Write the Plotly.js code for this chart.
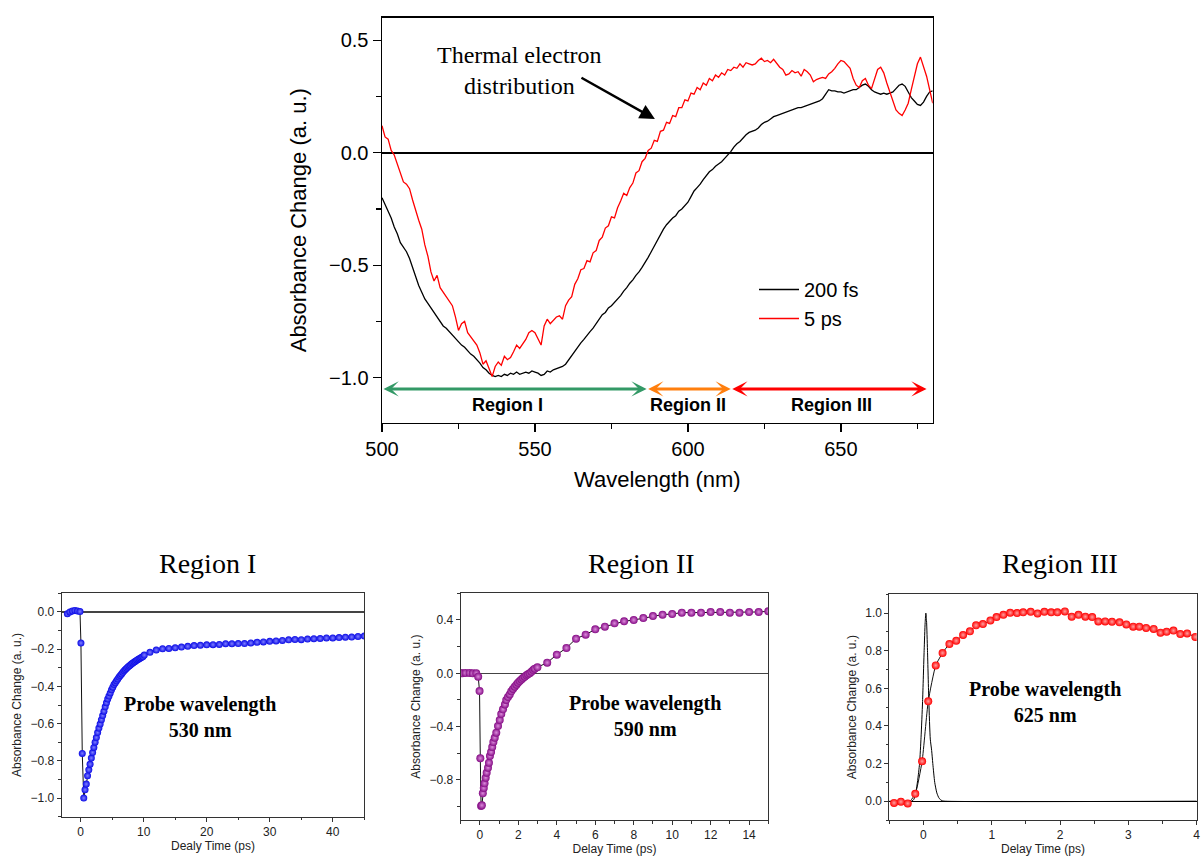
<!DOCTYPE html>
<html>
<head>
<meta charset="utf-8">
<script src="https://cdn.plot.ly/plotly-3.0.1.min.js"></script>
<style>html,body{margin:0;padding:0;background:#fff;}#chart{width:1201px;height:860px;}</style>
</head>
<body>
<div id="chart"></div>
<script>
// ---------- Main spectrum data ----------
const wavelength = [500,501,502,503,504,505,506,507,508,509,510,511,512,513,514,515,516,517,518,519,520,521,522,523,524,525,526,527,528,529,530,531,532,533,534,535,536,537,538,539,540,541,542,543,544,545,546,547,548,549,550,551,552,553,554,555,556,557,558,559,560,561,562,563,564,565,566,567,568,569,570,571,572,573,574,575,576,577,578,579,580,581,582,583,584,585,586,587,588,589,590,591,592,593,594,595,596,597,598,599,600,601,602,603,604,605,606,607,608,609,610,611,612,613,614,615,616,617,618,619,620,621,622,623,624,625,626,627,628,629,630,631,632,633,634,635,636,637,638,639,640,641,642,643,644,645,646,647,648,649,650,651,652,653,654,655,656,657,658,659,660,661,662,663,664,665,666,667,668,669,670,671,672,673,674,675,676,677,678,679,680];

const spec200fs = [-0.20,-0.23,-0.26,-0.29,-0.33,-0.36,-0.40,-0.42,-0.44,-0.47,-0.51,-0.55,-0.59,-0.62,-0.65,-0.67,-0.69,-0.71,-0.73,-0.75,-0.77,-0.78,-0.795,-0.81,-0.825,-0.84,-0.855,-0.865,-0.88,-0.895,-0.905,-0.92,-0.935,-0.955,-0.965,-0.98,-0.99,-0.995,-0.99,-0.995,-0.985,-0.99,-0.98,-0.985,-0.975,-0.985,-0.98,-0.975,-0.98,-0.97,-0.975,-0.98,-0.99,-0.985,-0.97,-0.975,-0.965,-0.96,-0.955,-0.95,-0.94,-0.92,-0.90,-0.88,-0.86,-0.845,-0.83,-0.81,-0.795,-0.78,-0.76,-0.745,-0.72,-0.71,-0.69,-0.68,-0.665,-0.65,-0.635,-0.615,-0.60,-0.58,-0.565,-0.545,-0.53,-0.51,-0.49,-0.465,-0.44,-0.415,-0.385,-0.36,-0.34,-0.32,-0.305,-0.29,-0.28,-0.26,-0.25,-0.235,-0.22,-0.195,-0.17,-0.155,-0.14,-0.12,-0.10,-0.085,-0.075,-0.06,-0.05,-0.04,-0.025,-0.01,0.005,0.025,0.04,0.05,0.065,0.08,0.09,0.095,0.10,0.11,0.125,0.135,0.14,0.15,0.16,0.165,0.17,0.175,0.18,0.185,0.19,0.195,0.20,0.20,0.205,0.21,0.215,0.22,0.225,0.23,0.24,0.26,0.28,0.275,0.275,0.27,0.27,0.265,0.27,0.275,0.28,0.28,0.29,0.30,0.305,0.295,0.28,0.27,0.265,0.26,0.265,0.26,0.265,0.27,0.285,0.30,0.305,0.295,0.27,0.245,0.23,0.215,0.21,0.225,0.25,0.27,0.275];

const spec5ps = [0.12,0.07,0.06,0.01,-0.01,-0.05,-0.09,-0.13,-0.14,-0.16,-0.21,-0.26,-0.30,-0.34,-0.41,-0.46,-0.53,-0.57,-0.545,-0.60,-0.62,-0.64,-0.655,-0.68,-0.73,-0.79,-0.76,-0.75,-0.80,-0.82,-0.835,-0.855,-0.89,-0.94,-0.925,-0.96,-0.995,-0.95,-0.93,-0.945,-0.905,-0.92,-0.91,-0.885,-0.855,-0.87,-0.85,-0.83,-0.80,-0.79,-0.80,-0.83,-0.855,-0.77,-0.74,-0.76,-0.745,-0.73,-0.725,-0.74,-0.68,-0.655,-0.64,-0.585,-0.56,-0.52,-0.515,-0.48,-0.485,-0.445,-0.435,-0.39,-0.375,-0.335,-0.325,-0.285,-0.29,-0.245,-0.215,-0.18,-0.19,-0.155,-0.135,-0.09,-0.08,-0.04,-0.025,0.01,0.02,0.055,0.05,0.095,0.10,0.135,0.13,0.165,0.16,0.20,0.20,0.235,0.23,0.265,0.26,0.29,0.28,0.31,0.30,0.33,0.32,0.345,0.335,0.355,0.345,0.37,0.365,0.38,0.375,0.395,0.38,0.40,0.395,0.39,0.395,0.41,0.42,0.405,0.41,0.40,0.415,0.395,0.38,0.37,0.345,0.35,0.365,0.355,0.36,0.34,0.37,0.36,0.345,0.315,0.325,0.33,0.335,0.33,0.35,0.36,0.375,0.395,0.41,0.405,0.39,0.375,0.33,0.30,0.29,0.32,0.33,0.30,0.285,0.33,0.37,0.38,0.355,0.31,0.27,0.23,0.19,0.175,0.165,0.19,0.22,0.28,0.34,0.395,0.425,0.38,0.34,0.28,0.22];

const seriesNames = ["200 fs", "5 ps"];

// ---------- Region I (530 nm) ----------
const r1Time = [-2.1,-1.7,-1.3,-0.9,-0.5,-0.1,0.05,0.26,0.5,0.7,0.9,1.1,1.3,1.5,1.7,1.9,2.1,2.3,2.5,2.7,2.9,3.1,3.3,3.5,3.7,3.9,4.1,4.3,4.5,4.7,4.9,5.1,5.3,5.5,5.7,5.9,6.1,6.3,6.5,6.7,6.9,7.1,7.3,7.5,7.7,7.9,8.1,8.3,8.5,8.7,8.9,9.1,9.3,9.5,9.7,9.9,10.1,11,12,13,14,15,16,17,18,19,20,21,22,23,24,25,26,27,28,29,30,31,32,33,34,35,36,37,38,39,40,41,42,43,44,45];
const r1Abs = [-0.01,0.0,0.005,0.008,0.005,0.002,-0.167,-0.76,-1.0,-0.955,-0.925,-0.88,-0.848,-0.818,-0.785,-0.755,-0.728,-0.700,-0.675,-0.648,-0.624,-0.602,-0.579,-0.557,-0.533,-0.510,-0.488,-0.468,-0.452,-0.435,-0.418,-0.404,-0.390,-0.380,-0.370,-0.360,-0.350,-0.341,-0.333,-0.324,-0.316,-0.309,-0.302,-0.296,-0.290,-0.285,-0.279,-0.274,-0.269,-0.265,-0.259,-0.255,-0.251,-0.247,-0.243,-0.240,-0.232,-0.217,-0.205,-0.198,-0.196,-0.193,-0.189,-0.185,-0.181,-0.179,-0.177,-0.176,-0.175,-0.171,-0.171,-0.170,-0.170,-0.167,-0.163,-0.161,-0.158,-0.156,-0.153,-0.150,-0.148,-0.149,-0.146,-0.144,-0.143,-0.140,-0.140,-0.138,-0.136,-0.135,-0.132,-0.130];

// ---------- Region II (590 nm) ----------
const r2Time = [-1.0,-0.92,-0.75,-0.54,-0.37,-0.19,-0.09,-0.02,0.02,0.06,0.1,0.15,0.2,0.24,0.3,0.35,0.42,0.47,0.52,0.58,0.64,0.7,0.77,0.85,0.94,1.03,1.11,1.2,1.3,1.37,1.46,1.55,1.63,1.72,1.81,1.9,1.98,2.07,2.16,2.24,2.33,2.42,2.5,2.59,2.68,2.77,2.85,2.99,3.5,4.0,4.5,5.0,5.5,6.0,6.5,7.0,7.5,8.0,8.5,9.0,9.5,10.0,10.5,11.0,11.5,12.0,12.5,13.0,13.5,14.0,14.5,15.0];
const r2Abs = [0.0,0.0,0.003,0.003,0.0,0.0,-0.025,-0.133,-0.637,-0.995,-0.99,-0.90,-0.86,-0.825,-0.783,-0.745,-0.708,-0.67,-0.62,-0.59,-0.553,-0.515,-0.483,-0.445,-0.395,-0.35,-0.305,-0.27,-0.233,-0.2,-0.178,-0.158,-0.135,-0.117,-0.1,-0.085,-0.07,-0.058,-0.046,-0.036,-0.025,-0.015,-0.007,0.0,0.012,0.024,0.035,0.045,0.08,0.14,0.19,0.26,0.29,0.33,0.35,0.375,0.39,0.40,0.415,0.43,0.44,0.445,0.455,0.455,0.455,0.46,0.46,0.455,0.455,0.46,0.46,0.465];

// ---------- Region III (625 nm) ----------
const r3Time = [-0.43,-0.33,-0.23,-0.12,-0.02,0.07,0.18,0.28,0.38,0.48,0.58,0.68,0.77,0.87,0.98,1.07,1.17,1.27,1.37,1.46,1.57,1.67,1.77,1.87,1.96,2.07,2.17,2.27,2.37,2.47,2.56,2.66,2.76,2.87,2.97,3.07,3.16,3.26,3.37,3.47,3.56,3.66,3.76,3.86,3.98];
const r3Abs = [-0.009,-0.003,-0.012,0.039,0.212,0.531,0.722,0.788,0.836,0.853,0.884,0.903,0.935,0.942,0.961,0.979,0.991,1.002,1.0,1.004,1.007,0.998,1.007,1.004,1.004,1.009,0.981,0.991,0.981,0.979,0.956,0.956,0.954,0.951,0.94,0.928,0.928,0.921,0.916,0.896,0.901,0.907,0.889,0.892,0.873];
const pulseTime = [-0.5,-0.17,-0.14,-0.11,-0.085,-0.057,-0.035,-0.013,0.01,0.025,0.035,0.045,0.059,0.079,0.1,0.12,0.137,0.165,0.196,0.23,0.27,0.32,4.0];
const pulseAbs = [0,0,0.01,0.05,0.11,0.2,0.34,0.53,0.8,0.95,1.0,0.96,0.8,0.53,0.33,0.27,0.2,0.1,0.044,0.015,0.003,0,0];

const regionTitles = ["Region I", "Region II", "Region III"];
const probeLabels = ["Probe wavelength<br>530 nm", "Probe wavelength<br>590 nm", "Probe wavelength<br>625 nm"];
const regionBands = [[500, 586.5], [586.5, 614], [614, 678]];
const bandNames = ["Region I", "Region II", "Region III"];

// ---------- Build ----------
const SANS = "Liberation Sans, Arial, sans-serif";
const SERIF = "Liberation Serif, Times New Roman, serif";
const W = 1201, H = 860;
const px = v => v / W;
const py = v => 1 - v / H;

const traces = [
  {x: wavelength, y: spec200fs, name: seriesNames[0], mode: "lines", line: {color: "#000000", width: 1.3}, xaxis: "x", yaxis: "y"},
  {x: wavelength, y: spec5ps, name: seriesNames[1], mode: "lines", line: {color: "#ff0000", width: 1.3}, xaxis: "x", yaxis: "y"},
  {x: r1Time, y: r1Abs, mode: "lines+markers", showlegend: false, xaxis: "x2", yaxis: "y2",
   line: {color: "#111", width: 1},
   marker: {size: 7, color: "#0a0ae6", gradient: {type: "radial", color: "#7f7fff"}, line: {width: 0}}},
  {x: r2Time, y: r2Abs, mode: "lines+markers", showlegend: false, xaxis: "x3", yaxis: "y3",
   line: {color: "#111", width: 1},
   marker: {size: 8, color: "#850c85", gradient: {type: "radial", color: "#dc8cdc"}, line: {width: 0}}},
  {x: pulseTime, y: pulseAbs, mode: "lines", showlegend: false, xaxis: "x4", yaxis: "y4",
   line: {color: "#000", width: 1, shape: "spline", smoothing: 0.6}},
  {x: r3Time, y: r3Abs, mode: "lines+markers", showlegend: false, xaxis: "x4", yaxis: "y4",
   line: {color: "#111", width: 1, shape: "spline", smoothing: 0.5},
   marker: {size: 8, color: "#ff0000", gradient: {type: "radial", color: "#ffa0a0"}, line: {width: 0}}}
];

function mainAxis(extra) {
  return Object.assign({
    showline: true, mirror: true, linecolor: "#000", linewidth: 1.5,
    ticks: "outside", ticklen: 8, tickwidth: 1.2, tickcolor: "#000",
    showgrid: false, zeroline: false,
    tickfont: {family: SANS, size: 20, color: "#000"}
  }, extra);
}
function subAxis(extra) {
  return Object.assign({
    showline: true, mirror: true, linecolor: "#333", linewidth: 1,
    ticks: "outside", ticklen: 4, tickwidth: 1, tickcolor: "#333",
    showgrid: false, zeroline: false,
    tickfont: {family: SANS, size: 12, color: "#222"}
  }, extra);
}
const subMinor = (d) => ({dtick: d, ticks: "outside", ticklen: 2.5, tickcolor: "#333", showgrid: false});
const yTitle = (t) => ({text: t, font: {family: SANS, size: 12, color: "#222"}, standoff: 6});
const xTitle = (t) => ({text: t, font: {family: SANS, size: 12, color: "#222"}, standoff: 1});

const annotations = [];
// region arrows
const bandColors = ["#339966", "#ff7f0e", "#ff0000"];
const bandLabelX = [541, 600, 647];
regionBands.forEach((b, i) => {
  annotations.push({xref: "x", yref: "y", axref: "x", ayref: "y",
    x: b[1], y: -1.05, ax: b[0], ay: -1.05, text: "", showarrow: true,
    arrowside: "end+start", arrowhead: 3, startarrowhead: 3, arrowsize: 0.85, startarrowsize: 0.85,
    arrowwidth: 3, arrowcolor: bandColors[i]});
  annotations.push({xref: "x", yref: "y", x: bandLabelX[i], y: -1.122, text: "<b>" + bandNames[i] + "</b>",
    showarrow: false, font: {family: SANS, size: 18, color: "#000"}});
});
// thermal electron annotation
annotations.push({xref: "x", yref: "y", x: 544.8, y: 0.367, text: "Thermal electron<br>distribution",
  showarrow: false, font: {family: SERIF, size: 24, color: "#000"}});
annotations.push({xref: "x", yref: "y", axref: "x", ayref: "y", x: 589.2, y: 0.15, ax: 564.7, ay: 0.337,
  text: "", showarrow: true, arrowhead: 2, arrowsize: 1.2, arrowwidth: 2.5, arrowcolor: "#000"});
// subplot titles
const titleX = [207, 641, 1060];
regionTitles.forEach((t, i) => {
  annotations.push({xref: "paper", yref: "paper", x: px(titleX[i]), y: py(563), text: t, showarrow: false,
    xanchor: "center", yanchor: "middle", font: {family: SERIF, size: 28, color: "#000"}});
});
// probe labels
const probePos = [["x2", "y2", 18.95, -0.563], ["x3", "y3", 8.6, -0.323], ["x4", "y4", 1.78, 0.527]];
probePos.forEach((p, i) => {
  annotations.push({xref: p[0], yref: p[1], x: p[2], y: p[3], text: "<b>" + probeLabels[i].replace("<br>", "</b><br><b>") + "</b>",
    showarrow: false, font: {family: SERIF, size: 20, color: "#000"}});
});

const layout = {
  width: W, height: H, margin: {l: 0, r: 0, t: 0, b: 0},
  paper_bgcolor: "#fff", plot_bgcolor: "rgba(0,0,0,0)",
  showlegend: true,
  legend: {x: px(754), y: py(270), xanchor: "left", yanchor: "top", bgcolor: "rgba(0,0,0,0)",
    font: {family: SANS, size: 20, color: "#000"}, tracegroupgap: 0, itemwidth: 40},
  xaxis: mainAxis({domain: [px(382), px(932.7)], anchor: "y", range: [500, 680], dtick: 50, tick0: 500,
    minor: {dtick: 25, ticks: "outside", ticklen: 5, tickcolor: "#000", showgrid: false},
    title: {text: "Wavelength (nm)", font: {family: SANS, size: 22, color: "#000"}, standoff: 12}}),
  yaxis: mainAxis({domain: [py(422.7), py(17.7)], anchor: "x", range: [-1.2, 0.6], dtick: 0.5, tick0: 0, tickformat: ".1f",
    zeroline: true, zerolinecolor: "#000", zerolinewidth: 2,
    minor: {dtick: 0.25, ticks: "outside", ticklen: 5, tickcolor: "#000", showgrid: false},
    title: {text: "Absorbance Change (a. u.)", font: {family: SANS, size: 22, color: "#000"}, standoff: 16}}),

  xaxis2: subAxis({domain: [px(61.7), px(364.3)], anchor: "y2", range: [-3, 45], dtick: 10, tick0: 0,
    minor: subMinor(5), title: xTitle("Dealy Time (ps)")}),
  yaxis2: subAxis({domain: [py(816.7), py(593.3)], anchor: "x2", range: [-1.1, 0.1], dtick: 0.2, tick0: 0, tickformat: ".1f",
    zeroline: true, zerolinecolor: "#444", zerolinewidth: 1.2,
    minor: subMinor(0.1), title: yTitle("Absorbance Change (a. u.)")}),

  xaxis3: subAxis({domain: [px(460.7), px(768.3)], anchor: "y3", range: [-1, 15], dtick: 2, tick0: 0,
    minor: subMinor(1), title: xTitle("Delay Time (ps)")}),
  yaxis3: subAxis({domain: [py(820), py(593.3)], anchor: "x3", range: [-1.1, 0.6], dtick: 0.4, tick0: 0, tickformat: ".1f",
    zeroline: true, zerolinecolor: "#444", zerolinewidth: 1.2,
    minor: subMinor(0.2), title: yTitle("Absorbance Change (a. u.)")}),

  xaxis4: subAxis({domain: [px(889.3), px(1196.7)], anchor: "y4", range: [-0.5, 4], dtick: 1, tick0: 0,
    minor: subMinor(0.5), title: xTitle("Delay Time (ps)")}),
  yaxis4: subAxis({domain: [py(820), py(594.3)], anchor: "x4", range: [-0.1, 1.1], dtick: 0.2, tick0: 0, tickformat: ".1f",
    zeroline: true, zerolinecolor: "#000", zerolinewidth: 1.2,
    minor: subMinor(0.1), title: yTitle("Absorbance Change (a. u.)")}),

  annotations: annotations
};

Plotly.newPlot("chart", traces, layout, {displayModeBar: false, staticPlot: true});
</script>
</body>
</html>
